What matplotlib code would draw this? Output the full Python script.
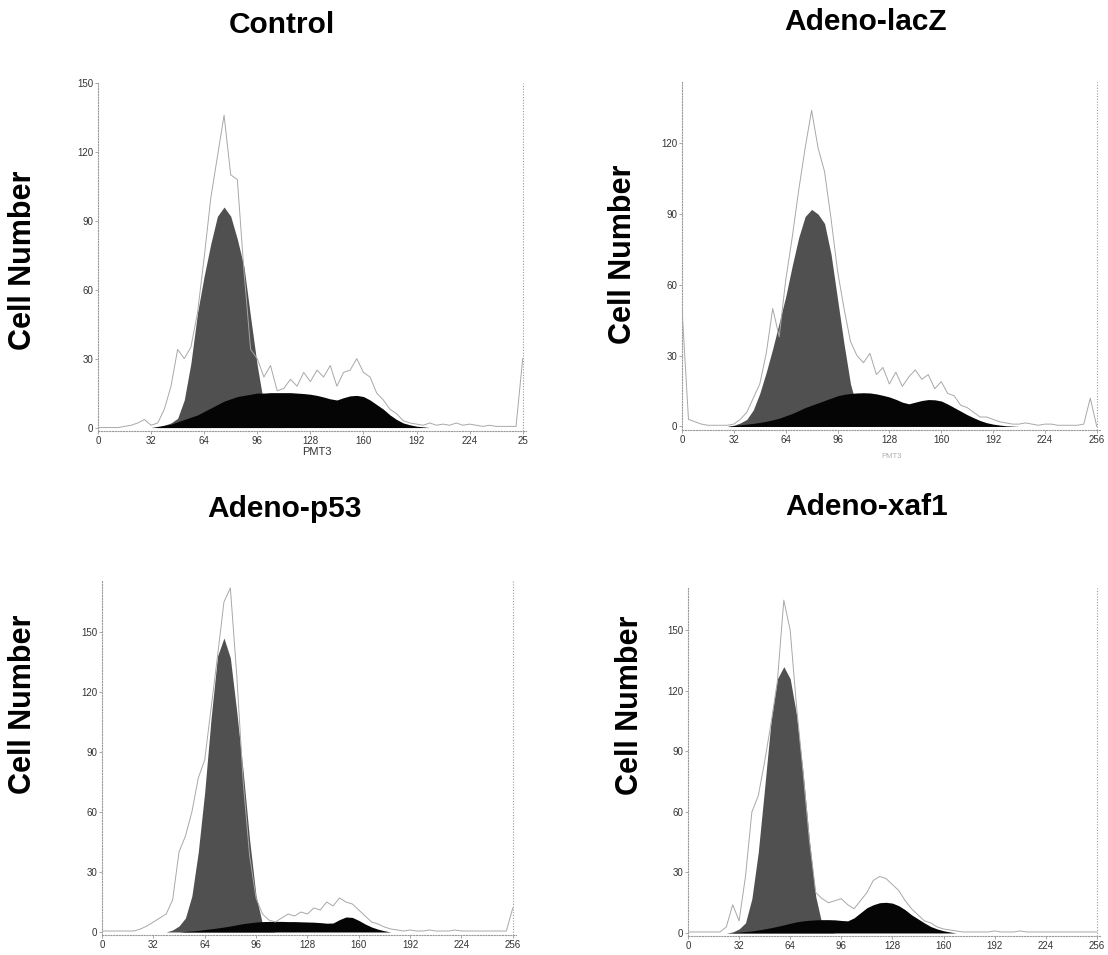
import numpy as np
import matplotlib
matplotlib.use("Agg")
import matplotlib.pyplot as plt

plt.rcParams['font.family'] = ['Liberation Sans', 'DejaVu Sans']

# channel grid of the raw histograms (PMT3 channels, step 4)
channels = np.arange(0, 257, 4)

# ---- Control ----
ctrl_raw = [0, 0, 0, 0, 0.5, 1, 2, 3.5,
            1, 2, 8, 18, 34, 30, 35, 50,
            74, 100, 118, 136, 110, 108, 68, 34,
            30, 22, 27, 16, 17, 21, 18, 24,
            20, 25, 22, 27, 18, 24, 25, 30,
            24, 22, 15, 12, 8, 6, 3, 2,
            1.5, 1, 2, 1, 1.5, 1, 2, 1,
            1.5, 1, 0.5, 1, 0.5, 0.5, 0.5, 0.5,
            30]
ctrl_g1_start = 36
ctrl_g1 = [0, 1, 2, 4, 12, 28, 50, 66, 80, 92, 96, 92, 82, 70, 48, 27, 10, 3, 1, 0]
ctrl_s_start = 32
ctrl_s = [0, 0.5, 1, 1.5, 2.5, 3.5, 4.5, 5.5, 7, 8.5, 10, 11.5, 12.5, 13.5, 14, 14.5,
          15, 15, 15.2, 15.2, 15.2, 15.2, 15, 14.8, 14.5, 14, 13.3, 12.5, 12, 13, 13.8, 14,
          13.5, 12, 10, 8, 5.5, 3.5, 2, 1.2, 0.6, 0.3, 0]

# ---- Adeno-lacZ ----
lacz_raw = [50, 3, 2, 1, 0.5, 0.5, 0.5, 0.5,
            1, 3, 6, 12, 18, 31, 50, 38,
            62, 80, 100, 118, 134, 118, 108, 88,
            66, 50, 36, 30, 27, 31, 22, 25,
            18, 23, 17, 21, 24, 20, 22, 16,
            19, 14, 13, 9, 8, 6, 4, 4,
            3, 2, 1.5, 1, 1, 1.5, 1, 0.5,
            1, 1, 0.5, 0.5, 0.5, 0.5, 1, 12,
            0]
lacz_g1_start = 28
lacz_g1 = [0, 0.5, 1.5, 3, 7, 14, 23, 33, 44, 55, 68, 80, 89, 92, 90, 86,
           73, 54, 35, 18, 8, 3, 1, 0]
lacz_s_start = 28
lacz_s = [0, 0.4, 0.7, 1, 1.3, 1.7, 2.2, 2.8, 3.5, 4.5, 5.5, 6.7, 8, 9, 10, 11,
          12, 13, 13.6, 14, 14.2, 14.3, 14.2, 13.8, 13.2, 12.5, 11.5, 10.3, 9.6, 10.3, 11, 11.4,
          11.3, 10.8, 9.5, 8, 6.5, 5, 3.7, 2.5, 1.6, 1, 0.6, 0.3, 0.15, 0]

# ---- Adeno-p53 ----
p53_raw = [0.5, 0.5, 0.5, 0.5, 0.5, 0.5, 1.5, 3,
           5, 7, 9, 16, 40, 48, 60, 77,
           86, 112, 138, 165, 172, 128, 75, 38,
           17, 9, 6, 5, 7, 9, 8, 10,
           9, 12, 11, 15, 13, 17, 15, 14,
           11, 8, 5, 4, 2.5, 1.5, 1, 0.5,
           1, 0.5, 0.5, 1, 0.5, 0.5, 0.5, 1,
           0.5, 0.5, 0.5, 0.5, 0.5, 0.5, 0.5, 0.5,
           12]
p53_g1_start = 40
p53_g1 = [0, 1, 3, 7, 18, 40, 70, 107, 138, 147, 137, 110, 80, 46, 18, 4, 1, 0]
p53_s_start = 48
p53_s = [0, 0.3, 0.5, 0.8, 1.2, 1.6, 2, 2.5, 3, 3.6, 4.2, 4.6, 5, 5.2, 5.3, 5.3,
         5.3, 5.2, 5.2, 5.1, 5, 4.9, 4.7, 4.4, 4.5, 6.2, 7.5, 7.3, 5.8, 4, 2.5, 1.4,
         0.6, 0]

# ---- Adeno-xaf1 ----
xaf1_raw = [0.5, 0.5, 0.5, 0.5, 0.5, 0.5, 3, 14,
            6, 28, 60, 68, 85, 104, 125, 165,
            150, 112, 80, 46, 20, 17, 15, 16,
            17, 14, 12, 16, 20, 26, 28, 27,
            24, 21, 16, 12, 9, 6, 5, 3,
            2, 1.5, 1, 0.5, 0.5, 0.5, 0.5, 0.5,
            1, 0.5, 0.5, 0.5, 1, 0.5, 0.5, 0.5,
            0.5, 0.5, 0.5, 0.5, 0.5, 0.5, 0.5, 0.5,
            0.5]
xaf1_g1_start = 24
xaf1_g1 = [0, 0.5, 2, 5, 17, 40, 72, 105, 126, 132, 126, 108, 80, 46, 18, 4, 1, 0]
xaf1_s_start = 24
xaf1_s = [0, 0.2, 0.4, 0.7, 1, 1.5, 2, 2.6, 3.3, 4, 4.8, 5.5, 6, 6.3, 6.5, 6.6,
          6.6, 6.5, 6.2, 6, 7.5, 10, 12.5, 14, 15, 15.2, 14.8, 13.5, 11.5, 9, 7, 5,
          3.2, 2, 1.1, 0.5, 0]

xtick_vals = [0, 32, 64, 96, 128, 160, 192, 224, 256]


def draw_panel(fig, rect, raw, g1_start, g1, s_start, s, ytop, yticks, xlabels):
    ax = fig.add_axes(rect)
    g1_x = g1_start + 4 * np.arange(len(g1))
    s_x = s_start + 4 * np.arange(len(s))
    ax.fill_between(g1_x, 0, g1, color="#505050", lw=0, zorder=2)
    ax.fill_between(s_x, 0, s, color="#050505", lw=0, zorder=3)
    ax.plot(channels, raw, color="#a8a8a8", lw=0.7, zorder=4)
    ax.axvline(256, color="#9a9a9a", lw=0.8, ls=(0, (1, 1.5)), zorder=1)
    ax.set_xlim(0, 258)
    ax.set_ylim(-1.5, ytop)
    ax.set_xticks(xtick_vals)
    ax.set_xticklabels(xlabels)
    ax.set_yticks(yticks)
    for side in ["top", "right"]:
        ax.spines[side].set_visible(False)
    for side in ["left", "bottom"]:
        ax.spines[side].set_linestyle((0, (1, 1.5)))
        ax.spines[side].set_color("#9a9a9a")
        ax.spines[side].set_linewidth(0.8)
    ax.tick_params(labelsize=7, labelcolor="#333333", color="#9a9a9a",
                   length=2, width=0.6, pad=1.5)
    return ax


fig = plt.figure(figsize=(11.08, 9.55), dpi=100)
W, H = 1108.0, 955.0


def rect(x0, x1, ybot, ytopp):
    return [x0 / W, 1 - ybot / H, (x1 - x0) / W, (ybot - ytopp) / H]


draw_panel(fig, rect(98, 526, 431, 83), ctrl_raw, ctrl_g1_start, ctrl_g1,
           ctrl_s_start, ctrl_s, 150, [0, 30, 60, 90, 120, 150],
           ["0", "32", "64", "96", "128", "160", "192", "224", "25"])
draw_panel(fig, rect(682, 1100, 430, 82), lacz_raw, lacz_g1_start, lacz_g1,
           lacz_s_start, lacz_s, 146, [0, 30, 60, 90, 120],
           ["0", "32", "64", "96", "128", "160", "192", "224", "256"])
draw_panel(fig, rect(102, 516, 935, 580), p53_raw, p53_g1_start, p53_g1,
           p53_s_start, p53_s, 176, [0, 30, 60, 90, 120, 150],
           ["0", "32", "64", "96", "128", "160", "192", "224", "256"])
draw_panel(fig, rect(688, 1100, 936, 588), xaf1_raw, xaf1_g1_start, xaf1_g1,
           xaf1_s_start, xaf1_s, 171, [0, 30, 60, 90, 120, 150],
           ["0", "32", "64", "96", "128", "160", "192", "224", "256"])

titles = ["Control", "Adeno-lacZ", "Adeno-p53", "Adeno-xaf1"]
title_pos = [(282, 25), (866, 22), (285, 509), (867, 507)]
for t, (px, py) in zip(titles, title_pos):
    fig.text(px / W, 1 - py / H, t, ha="center", va="center",
             fontsize=21.5, fontweight="bold")

ylabel_pos = [(23, 260), (623, 254), (23, 704), (630, 705)]
for px, py in ylabel_pos:
    fig.text(px / W, 1 - py / H, "Cell Number", ha="center", va="center",
             rotation=90, fontsize=22, fontweight="bold")

fig.text(317 / W, 1 - 452 / H, "PMT3", ha="center", va="center",
         fontsize=8, color="#333333")
fig.text(892 / W, 1 - 456 / H, "PMT3", ha="center", va="center",
         fontsize=5.5, color="#b0b0b0")

fig.savefig("out.png", dpi=100)
